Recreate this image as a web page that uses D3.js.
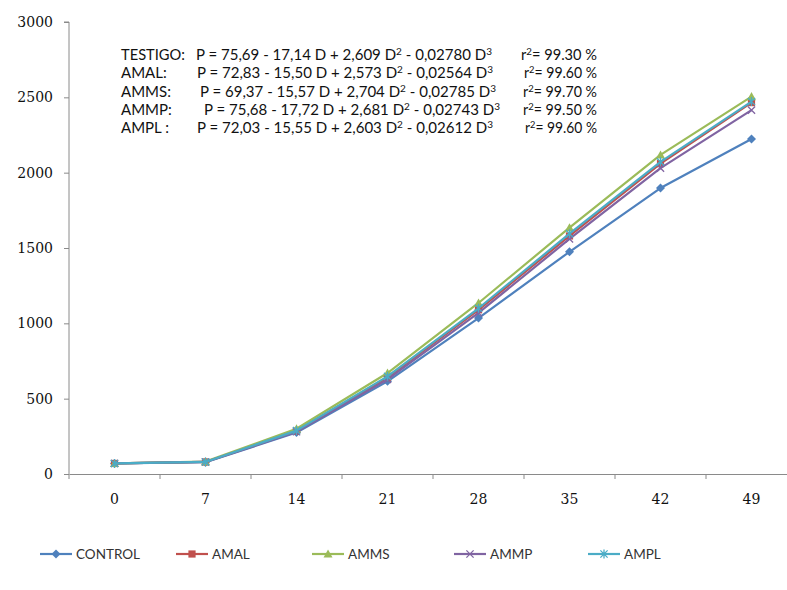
<!DOCTYPE html>
<html>
<head>
<meta charset="utf-8">
<script src="https://cdn.jsdelivr.net/npm/d3@7"></script>
<style>
  body { margin: 0; background: #fff; }
  svg { display: block; }
</style>
</head>
<body>
<div class="chart"></div>
<script>
// days of measurement (x categories)
const days = ['0', '7', '14', '21', '28', '35', '42', '49'];

// weights per series
const control = [70, 78, 275, 615, 1035, 1475, 1898, 2224];
const amal    = [70, 80, 285, 640, 1090, 1580, 2060, 2465];
const amms    = [70, 82, 300, 670, 1135, 1635, 2118, 2505];
const ammp    = [70, 80, 280, 628, 1070, 1560, 2030, 2415];
const ampl    = [70, 80, 288, 648, 1100, 1595, 2072, 2472];

const seriesNames = ['CONTROL', 'AMAL', 'AMMS', 'AMMP', 'AMPL'];
const yTicks = [0, 500, 1000, 1500, 2000, 2500, 3000];

// fitted equations printed inside the plot
const eqLabels = ['TESTIGO:', 'AMAL:', 'AMMS:', 'AMMP:', 'AMPL :'];
const eqCoefs = [
  ['75,69', '17,14', '2,609', '0,02780'],
  ['72,83', '15,50', '2,573', '0,02564'],
  ['69,37', '15,57', '2,704', '0,02785'],
  ['75,68', '17,72', '2,681', '0,02743'],
  ['72,03', '15,55', '2,603', '0,02612']
];
const r2 = ['99.30 %', '99.60 %', ' 99.70 %', '99.50 %', '99.60 %'];

const series = [control, amal, amms, ammp, ampl].map((v, i) => ({ name: seriesNames[i], values: v }));
const colors = ['#4F81BD', '#C0504D', '#9BBB59', '#8064A2', '#4BACC6'];

const W = 787, H = 590;
const margin = { top: 22, left: 69 };
const plotBottom = 474;

const svg = d3.select('.chart').append('svg')
  .attr('width', W).attr('height', H);

const x = d3.scaleBand()
  .domain(days)
  .range([69, 69 + 91 * 8]);

const y = d3.scaleLinear()
  .domain([0, 3000])
  .range([plotBottom, margin.top]);

//y axis
const yAxis = svg.append('g')
  .attr('transform', `translate(${margin.left},0)`)
  .call(d3.axisLeft(y).tickValues(yTicks).tickFormat(d3.format('d')).tickSize(5).tickPadding(11));
yAxis.select('.domain').attr('stroke', '#8a8a8a').attr('d', `M-5,${y(3000)}H0V${plotBottom}`);
yAxis.selectAll('.tick line').attr('stroke', '#8a8a8a');
yAxis.selectAll('.tick text')
  .style('font-family', 'DejaVu Serif')
  .style('font-size', '14px')
  .attr('fill', '#111');

//x axis, ticks between categories
const xAxis = svg.append('g')
  .attr('transform', `translate(0,${plotBottom})`)
  .call(d3.axisBottom(x).tickSize(0).tickPadding(20));
xAxis.select('.domain').attr('stroke', '#8a8a8a');
xAxis.selectAll('.tick text')
  .style('font-family', 'DejaVu Serif')
  .style('font-size', '14px')
  .attr('fill', '#111');
xAxis.selectAll('.sep')
  .data(days.concat(['end']))
  .enter().append('line')
  .attr('class', 'sep')
  .attr('x1', (d, i) => 69 + i * x.step())
  .attr('x2', (d, i) => 69 + i * x.step())
  .attr('y1', 0).attr('y2', 5)
  .attr('stroke', '#8a8a8a');

const line = d3.line()
  .x((d, i) => x(days[i]) + x.bandwidth() / 2)
  .y(d => y(d));

function marker(g, type, color, size) {
  const s = size;
  if (type === 0) {
    g.append('path').attr('d', `M0,${-s}L${s},0L0,${s}L${-s},0Z`).attr('fill', color);
  } else if (type === 1) {
    g.append('rect').attr('x', -s * 0.8).attr('y', -s * 0.8).attr('width', s * 1.6).attr('height', s * 1.6).attr('fill', color);
  } else if (type === 2) {
    g.append('path').attr('d', `M0,${-s}L${s},${s * 0.8}L${-s},${s * 0.8}Z`).attr('fill', color);
  } else if (type === 3) {
    g.append('path').attr('d', `M${-s * 0.8},${-s * 0.8}L${s * 0.8},${s * 0.8}M${-s * 0.8},${s * 0.8}L${s * 0.8},${-s * 0.8}`)
      .attr('stroke', color).attr('stroke-width', 1.3);
  } else {
    g.append('path').attr('d', `M${-s * 0.8},${-s * 0.8}L${s * 0.8},${s * 0.8}M${-s * 0.8},${s * 0.8}L${s * 0.8},${-s * 0.8}M0,${-s}V${s}`)
      .attr('stroke', color).attr('stroke-width', 1.3);
  }
}

series.forEach((s, si) => {
  svg.append('path')
    .datum(s.values)
    .attr('d', line)
    .attr('fill', 'none')
    .attr('stroke', colors[si])
    .attr('stroke-width', 2.2)
    .attr('stroke-linejoin', 'round');
  s.values.forEach((v, i) => {
    const g = svg.append('g')
      .attr('transform', `translate(${x(days[i]) + x.bandwidth() / 2},${y(v)})`);
    marker(g, si, colors[si], 4.5);
  });
});

// equations block
const eqY = [60, 78, 97, 115, 133];
const eqX = [196, 197, 200, 204, 197];
const r2X = [521, 524, 523, 523, 525];
const eq = svg.append('g')
  .style('font-family', 'Lato')
  .style('font-size', '15px')
  .attr('fill', '#111');

eqLabels.forEach((lab, i) => {
  eq.append('text').attr('x', 121).attr('y', eqY[i]).text(lab)
    .attr('textLength', i === 0 ? 64 : null).attr('lengthAdjust', 'spacingAndGlyphs');
  const c = eqCoefs[i];
  const t = eq.append('text').attr('x', eqX[i]).attr('y', eqY[i])
    .attr('textLength', 296).attr('lengthAdjust', 'spacingAndGlyphs');
  t.append('tspan').text(`P = ${c[0]} - ${c[1]} D + ${c[2]} D`);
  t.append('tspan').attr('dy', -5).style('font-size', '10px').text('2');
  t.append('tspan').attr('dy', 5).text(` - ${c[3]} D`);
  t.append('tspan').attr('dy', -5).style('font-size', '10px').text('3');
  const r = eq.append('text').attr('x', r2X[i]).attr('y', eqY[i])
    .attr('textLength', 597 - r2X[i]).attr('lengthAdjust', 'spacingAndGlyphs');
  r.append('tspan').text('r');
  r.append('tspan').attr('dy', -5).style('font-size', '10px').text('2');
  r.append('tspan').attr('dy', 5).text('= ' + r2[i]);
});

// legend
const legX = [40, 176, 312, 454, 588];
const legend = svg.append('g');
series.forEach((s, si) => {
  const g = legend.append('g').attr('transform', `translate(${legX[si]},554)`);
  g.append('line').attr('x1', 0).attr('x2', 32).attr('stroke', colors[si]).attr('stroke-width', 2.2);
  const m = g.append('g').attr('transform', 'translate(16,0)');
  marker(m, si, colors[si], 4.5);
  g.append('text').attr('x', 36).attr('y', 5)
    .style('font-family', 'Lato').style('font-size', '13.5px')
    .attr('fill', '#333')
    .text(s.name);
});
</script>
</body>
</html>
